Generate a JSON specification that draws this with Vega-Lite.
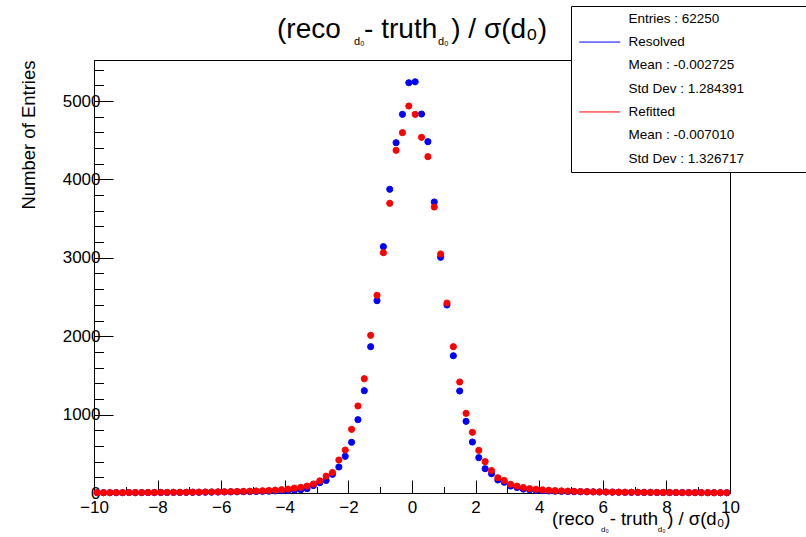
{
  "$schema": "https://vega.github.io/schema/vega-lite/v6.json",
  "width": 636,
  "height": 433,
  "autosize": {"type": "none"},
  "padding": {"left": 94, "top": 60, "right": 76, "bottom": 44},
  "background": "white",
  "config": {
    "font": "Liberation Sans",
    "view": {"stroke": "black", "strokeWidth": 1}
  },
  "title": {
    "text": "(reco\u00a0\u00a0\u00a0- truth\u2002) / σ(d₀)",
    "subtitle": "d₀\u00a0\u00a0\u00a0\u00a0\u00a0\u00a0\u00a0\u00a0\u00a0\u00a0\u00a0\u00a0\u00a0\u00a0\u00a0\u00a0\u00a0\u00a0\u00a0\u00a0\u00a0\u00a0\u00a0\u00a0d₀\u00a0\u00a0\u00a0\u00a0\u00a0\u00a0\u00a0\u200b",
    "fontSize": 28,
    "fontWeight": "normal",
    "color": "black",
    "subtitleFontSize": 11,
    "subtitleColor": "black",
    "subtitlePadding": -8,
    "anchor": "middle",
    "frame": "group",
    "offset": -41
  },
  "data": {
    "values": [
      {"x": -9.9, "s": "Resolved", "n": 3}, {"x": -9.7, "s": "Resolved", "n": 4}, {"x": -9.5, "s": "Resolved", "n": 3}, {"x": -9.3, "s": "Resolved", "n": 4}, {"x": -9.1, "s": "Resolved", "n": 4},
      {"x": -8.9, "s": "Resolved", "n": 5}, {"x": -8.7, "s": "Resolved", "n": 4}, {"x": -8.5, "s": "Resolved", "n": 5}, {"x": -8.3, "s": "Resolved", "n": 5}, {"x": -8.1, "s": "Resolved", "n": 6},
      {"x": -7.9, "s": "Resolved", "n": 6}, {"x": -7.7, "s": "Resolved", "n": 6}, {"x": -7.5, "s": "Resolved", "n": 7}, {"x": -7.3, "s": "Resolved", "n": 7}, {"x": -7.1, "s": "Resolved", "n": 8},
      {"x": -6.9, "s": "Resolved", "n": 8}, {"x": -6.7, "s": "Resolved", "n": 9}, {"x": -6.5, "s": "Resolved", "n": 10}, {"x": -6.3, "s": "Resolved", "n": 11}, {"x": -6.1, "s": "Resolved", "n": 12},
      {"x": -5.9, "s": "Resolved", "n": 13}, {"x": -5.7, "s": "Resolved", "n": 14}, {"x": -5.5, "s": "Resolved", "n": 15}, {"x": -5.3, "s": "Resolved", "n": 16}, {"x": -5.1, "s": "Resolved", "n": 18},
      {"x": -4.9, "s": "Resolved", "n": 19}, {"x": -4.7, "s": "Resolved", "n": 21}, {"x": -4.5, "s": "Resolved", "n": 23}, {"x": -4.3, "s": "Resolved", "n": 26}, {"x": -4.1, "s": "Resolved", "n": 29},
      {"x": -3.9, "s": "Resolved", "n": 32}, {"x": -3.7, "s": "Resolved", "n": 36}, {"x": -3.5, "s": "Resolved", "n": 42}, {"x": -3.3, "s": "Resolved", "n": 55}, {"x": -3.1, "s": "Resolved", "n": 95},
      {"x": -2.9, "s": "Resolved", "n": 131}, {"x": -2.7, "s": "Resolved", "n": 160}, {"x": -2.5, "s": "Resolved", "n": 238}, {"x": -2.3, "s": "Resolved", "n": 332}, {"x": -2.1, "s": "Resolved", "n": 468},
      {"x": -1.9, "s": "Resolved", "n": 647}, {"x": -1.7, "s": "Resolved", "n": 935}, {"x": -1.5, "s": "Resolved", "n": 1305}, {"x": -1.3, "s": "Resolved", "n": 1866}, {"x": -1.1, "s": "Resolved", "n": 2453},
      {"x": -0.9, "s": "Resolved", "n": 3142}, {"x": -0.7, "s": "Resolved", "n": 3874}, {"x": -0.5, "s": "Resolved", "n": 4468}, {"x": -0.3, "s": "Resolved", "n": 4830}, {"x": -0.1, "s": "Resolved", "n": 5233},
      {"x": 0.1, "s": "Resolved", "n": 5245}, {"x": 0.3, "s": "Resolved", "n": 4834}, {"x": 0.5, "s": "Resolved", "n": 4481}, {"x": 0.7, "s": "Resolved", "n": 3712}, {"x": 0.9, "s": "Resolved", "n": 3006},
      {"x": 1.1, "s": "Resolved", "n": 2398}, {"x": 1.3, "s": "Resolved", "n": 1751}, {"x": 1.5, "s": "Resolved", "n": 1301}, {"x": 1.7, "s": "Resolved", "n": 914}, {"x": 1.9, "s": "Resolved", "n": 650},
      {"x": 2.1, "s": "Resolved", "n": 451}, {"x": 2.3, "s": "Resolved", "n": 310}, {"x": 2.5, "s": "Resolved", "n": 246}, {"x": 2.7, "s": "Resolved", "n": 166}, {"x": 2.9, "s": "Resolved", "n": 137},
      {"x": 3.1, "s": "Resolved", "n": 89}, {"x": 3.3, "s": "Resolved", "n": 70}, {"x": 3.5, "s": "Resolved", "n": 50}, {"x": 3.7, "s": "Resolved", "n": 40}, {"x": 3.9, "s": "Resolved", "n": 33},
      {"x": 4.1, "s": "Resolved", "n": 29}, {"x": 4.3, "s": "Resolved", "n": 26}, {"x": 4.5, "s": "Resolved", "n": 23}, {"x": 4.7, "s": "Resolved", "n": 21}, {"x": 4.9, "s": "Resolved", "n": 19},
      {"x": 5.1, "s": "Resolved", "n": 17}, {"x": 5.3, "s": "Resolved", "n": 16}, {"x": 5.5, "s": "Resolved", "n": 15}, {"x": 5.7, "s": "Resolved", "n": 14}, {"x": 5.9, "s": "Resolved", "n": 13},
      {"x": 6.1, "s": "Resolved", "n": 12}, {"x": 6.3, "s": "Resolved", "n": 11}, {"x": 6.5, "s": "Resolved", "n": 10}, {"x": 6.7, "s": "Resolved", "n": 9}, {"x": 6.9, "s": "Resolved", "n": 8},
      {"x": 7.1, "s": "Resolved", "n": 8}, {"x": 7.3, "s": "Resolved", "n": 7}, {"x": 7.5, "s": "Resolved", "n": 7}, {"x": 7.7, "s": "Resolved", "n": 6}, {"x": 7.9, "s": "Resolved", "n": 6},
      {"x": 8.1, "s": "Resolved", "n": 5}, {"x": 8.3, "s": "Resolved", "n": 5}, {"x": 8.5, "s": "Resolved", "n": 5}, {"x": 8.7, "s": "Resolved", "n": 4}, {"x": 8.9, "s": "Resolved", "n": 4},
      {"x": 9.1, "s": "Resolved", "n": 4}, {"x": 9.3, "s": "Resolved", "n": 3}, {"x": 9.5, "s": "Resolved", "n": 3}, {"x": 9.7, "s": "Resolved", "n": 3}, {"x": 9.9, "s": "Resolved", "n": 3},
      {"x": -9.9, "s": "Refitted", "n": 4}, {"x": -9.7, "s": "Refitted", "n": 4}, {"x": -9.5, "s": "Refitted", "n": 5}, {"x": -9.3, "s": "Refitted", "n": 5}, {"x": -9.1, "s": "Refitted", "n": 5},
      {"x": -8.9, "s": "Refitted", "n": 6}, {"x": -8.7, "s": "Refitted", "n": 6}, {"x": -8.5, "s": "Refitted", "n": 6}, {"x": -8.3, "s": "Refitted", "n": 7}, {"x": -8.1, "s": "Refitted", "n": 7},
      {"x": -7.9, "s": "Refitted", "n": 8}, {"x": -7.7, "s": "Refitted", "n": 8}, {"x": -7.5, "s": "Refitted", "n": 9}, {"x": -7.3, "s": "Refitted", "n": 9}, {"x": -7.1, "s": "Refitted", "n": 10},
      {"x": -6.9, "s": "Refitted", "n": 11}, {"x": -6.7, "s": "Refitted", "n": 12}, {"x": -6.5, "s": "Refitted", "n": 13}, {"x": -6.3, "s": "Refitted", "n": 14}, {"x": -6.1, "s": "Refitted", "n": 15},
      {"x": -5.9, "s": "Refitted", "n": 16}, {"x": -5.7, "s": "Refitted", "n": 18}, {"x": -5.5, "s": "Refitted", "n": 19}, {"x": -5.3, "s": "Refitted", "n": 21}, {"x": -5.1, "s": "Refitted", "n": 23},
      {"x": -4.9, "s": "Refitted", "n": 26}, {"x": -4.7, "s": "Refitted", "n": 29}, {"x": -4.5, "s": "Refitted", "n": 32}, {"x": -4.3, "s": "Refitted", "n": 37}, {"x": -4.1, "s": "Refitted", "n": 43},
      {"x": -3.9, "s": "Refitted", "n": 50}, {"x": -3.7, "s": "Refitted", "n": 62}, {"x": -3.5, "s": "Refitted", "n": 72}, {"x": -3.3, "s": "Refitted", "n": 88}, {"x": -3.1, "s": "Refitted", "n": 115},
      {"x": -2.9, "s": "Refitted", "n": 155}, {"x": -2.7, "s": "Refitted", "n": 215}, {"x": -2.5, "s": "Refitted", "n": 262}, {"x": -2.3, "s": "Refitted", "n": 421}, {"x": -2.1, "s": "Refitted", "n": 548},
      {"x": -1.9, "s": "Refitted", "n": 812}, {"x": -1.7, "s": "Refitted", "n": 1110}, {"x": -1.5, "s": "Refitted", "n": 1458}, {"x": -1.3, "s": "Refitted", "n": 2011}, {"x": -1.1, "s": "Refitted", "n": 2522},
      {"x": -0.9, "s": "Refitted", "n": 3065}, {"x": -0.7, "s": "Refitted", "n": 3695}, {"x": -0.5, "s": "Refitted", "n": 4371}, {"x": -0.3, "s": "Refitted", "n": 4596}, {"x": -0.1, "s": "Refitted", "n": 4936},
      {"x": 0.1, "s": "Refitted", "n": 4830}, {"x": 0.3, "s": "Refitted", "n": 4537}, {"x": 0.5, "s": "Refitted", "n": 4290}, {"x": 0.7, "s": "Refitted", "n": 3648}, {"x": 0.9, "s": "Refitted", "n": 3049},
      {"x": 1.1, "s": "Refitted", "n": 2423}, {"x": 1.3, "s": "Refitted", "n": 1866}, {"x": 1.5, "s": "Refitted", "n": 1416}, {"x": 1.7, "s": "Refitted", "n": 1016}, {"x": 1.9, "s": "Refitted", "n": 774},
      {"x": 2.1, "s": "Refitted", "n": 544}, {"x": 2.3, "s": "Refitted", "n": 400}, {"x": 2.5, "s": "Refitted", "n": 287}, {"x": 2.7, "s": "Refitted", "n": 195}, {"x": 2.9, "s": "Refitted", "n": 160},
      {"x": 3.1, "s": "Refitted", "n": 111}, {"x": 3.3, "s": "Refitted", "n": 88}, {"x": 3.5, "s": "Refitted", "n": 70}, {"x": 3.7, "s": "Refitted", "n": 55}, {"x": 3.9, "s": "Refitted", "n": 47},
      {"x": 4.1, "s": "Refitted", "n": 40}, {"x": 4.3, "s": "Refitted", "n": 35}, {"x": 4.5, "s": "Refitted", "n": 30}, {"x": 4.7, "s": "Refitted", "n": 27}, {"x": 4.9, "s": "Refitted", "n": 24},
      {"x": 5.1, "s": "Refitted", "n": 21}, {"x": 5.3, "s": "Refitted", "n": 19}, {"x": 5.5, "s": "Refitted", "n": 17}, {"x": 5.7, "s": "Refitted", "n": 15}, {"x": 5.9, "s": "Refitted", "n": 14},
      {"x": 6.1, "s": "Refitted", "n": 13}, {"x": 6.3, "s": "Refitted", "n": 12}, {"x": 6.5, "s": "Refitted", "n": 11}, {"x": 6.7, "s": "Refitted", "n": 10}, {"x": 6.9, "s": "Refitted", "n": 10},
      {"x": 7.1, "s": "Refitted", "n": 9}, {"x": 7.3, "s": "Refitted", "n": 9}, {"x": 7.5, "s": "Refitted", "n": 8}, {"x": 7.7, "s": "Refitted", "n": 8}, {"x": 7.9, "s": "Refitted", "n": 7},
      {"x": 8.1, "s": "Refitted", "n": 7}, {"x": 8.3, "s": "Refitted", "n": 6}, {"x": 8.5, "s": "Refitted", "n": 6}, {"x": 8.7, "s": "Refitted", "n": 6}, {"x": 8.9, "s": "Refitted", "n": 5},
      {"x": 9.1, "s": "Refitted", "n": 5}, {"x": 9.3, "s": "Refitted", "n": 5}, {"x": 9.5, "s": "Refitted", "n": 4}, {"x": 9.7, "s": "Refitted", "n": 4}, {"x": 9.9, "s": "Refitted", "n": 4}
    ]
  },
  "resolve": {"axis": {"x": "independent"}},
  "layer": [
    {
      "mark": {"type": "circle", "size": 38, "opacity": 1, "strokeWidth": 1},
      "encoding": {
        "x": {
          "field": "x", "type": "quantitative",
          "scale": {"domain": [-10, 10], "nice": false, "zero": false},
          "axis": {
            "orient": "bottom",
            "values": [-10,-9.5,-9,-8.5,-8,-7.5,-7,-6.5,-6,-5.5,-5,-4.5,-4,-3.5,-3,-2.5,-2,-1.5,-1,-0.5,0,0.5,1,1.5,2,2.5,3,3.5,4,4.5,5,5.5,6,6.5,7,7.5,8,8.5,9,9.5,10],
            "format": "d",
            "labelExpr": "datum.value % 2 === 0 ? datum.label : ''",
            "labelOverlap": false,
            "labelFlush": false,
            "labelFontSize": 17,
            "labelColor": "black",
            "labelPadding": 19,
            "tickSize": {"condition": {"test": "datum.value % 2 === 0", "value": -13}, "value": -6.5},
            "tickColor": "black",
            "domainColor": "black",
            "grid": false,
            "title": "(reco\u00a0\u00a0\u00a0- truth\u2002) / σ(d₀)",
            "titleFontSize": 18.5,
            "titleFontWeight": "normal",
            "titleColor": "black",
            "titleAnchor": "end",
            "titleAlign": "right",
            "titleBaseline": "alphabetic",
            "titleX": 636,
            "titleY": 31
          }
        },
        "y": {
          "field": "n", "type": "quantitative",
          "scale": {"domain": [0, 5523], "nice": false, "zero": true},
          "axis": {
            "values": [0,200,400,600,800,1000,1200,1400,1600,1800,2000,2200,2400,2600,2800,3000,3200,3400,3600,3800,4000,4200,4400,4600,4800,5000,5200,5400],
            "labelExpr": "datum.value % 1000 === 0 ? datum.label : ''",
            "format": "d",
            "labelOverlap": false,
            "labelFlush": false,
            "labelFontSize": 17,
            "labelColor": "black",
            "labelPadding": 13,
            "tickSize": {"condition": {"test": "datum.value % 1000 === 0", "value": -19}, "value": -9.5},
            "tickColor": "black",
            "domainColor": "black",
            "grid": false,
            "title": "Number of Entries",
            "titleFontSize": 18.5,
            "titleFontWeight": "normal",
            "titleColor": "black",
            "titleAnchor": "end",
            "titleAlign": "right",
            "titleAngle": -90,
            "titleBaseline": "alphabetic",
            "titleX": -60,
            "titleY": 0
          }
        },
        "fill": {
          "field": "s", "type": "nominal",
          "scale": {
            "domain": ["Entries : 62250", "Resolved", "Mean : -0.002725", "Std Dev : 1.284391\u00a0\u00a0\u00a0\u00a0\u00a0\u00a0\u00a0\u00a0\u00a0\u00a0\u00a0\u00a0\u00a0\u00a0\u00a0\u00a0\u00a0\u00a0\u00a0\u00a0\u00a0\u00a0\u200b", "Refitted", "Mean : -0.007010", "Std Dev : 1.326717"],
            "range": ["transparent", "#0000ff", "transparent", "transparent", "#ff0000", "transparent", "transparent"]
          },
          "legend": {
            "title": null,
            "orient": "none",
            "legendX": 477,
            "legendY": -54,
            "padding": 6,
            "rowPadding": 8.3,
            "fillColor": "white",
            "strokeColor": "black",
            "labelFontSize": 13.5,
            "labelColor": "black",
            "labelLimit": 400,
            "symbolType": "M-4,0H4",
            "symbolSize": 105,
            "symbolStrokeWidth": 1,
            "symbolOffset": 16,
            "labelOffset": 22
          }
        },
        "stroke": {
          "field": "s", "type": "nominal",
          "scale": {
            "domain": ["Entries : 62250", "Resolved", "Mean : -0.002725", "Std Dev : 1.284391\u00a0\u00a0\u00a0\u00a0\u00a0\u00a0\u00a0\u00a0\u00a0\u00a0\u00a0\u00a0\u00a0\u00a0\u00a0\u00a0\u00a0\u00a0\u00a0\u00a0\u00a0\u00a0\u200b", "Refitted", "Mean : -0.007010", "Std Dev : 1.326717"],
            "range": ["transparent", "#0000ff", "transparent", "transparent", "#ff0000", "transparent", "transparent"]
          },
          "legend": {
            "title": null,
            "orient": "none",
            "legendX": 477,
            "legendY": -54,
            "padding": 6,
            "rowPadding": 8.3,
            "fillColor": "white",
            "strokeColor": "black",
            "labelFontSize": 13.5,
            "labelColor": "black",
            "labelLimit": 400,
            "symbolType": "M-4,0H4",
            "symbolSize": 105,
            "symbolStrokeWidth": 1,
            "symbolOffset": 16,
            "labelOffset": 22
          }
        }
      }
    },
    {
      "mark": {"type": "point", "opacity": 0},
      "encoding": {
        "x": {
          "field": "x", "type": "quantitative",
          "scale": {"domain": [-10, 10], "nice": false, "zero": false},
          "axis": {
            "orient": "bottom",
            "domain": false, "ticks": false, "labels": false, "grid": false,
            "title": "d₀\u00a0\u00a0\u00a0\u00a0\u00a0\u00a0\u00a0\u00a0\u00a0\u00a0\u00a0\u00a0\u00a0\u00a0\u00a0\u00a0\u00a0\u00a0\u00a0\u00a0\u00a0\u00a0d₀",
            "titleFontSize": 8,
            "titleFontWeight": "normal",
            "titleColor": "black",
            "titleAnchor": "end",
            "titleAlign": "right",
            "titleBaseline": "alphabetic",
            "titleX": 571,
            "titleY": 38
          }
        }
      }
    }
  ]
}
